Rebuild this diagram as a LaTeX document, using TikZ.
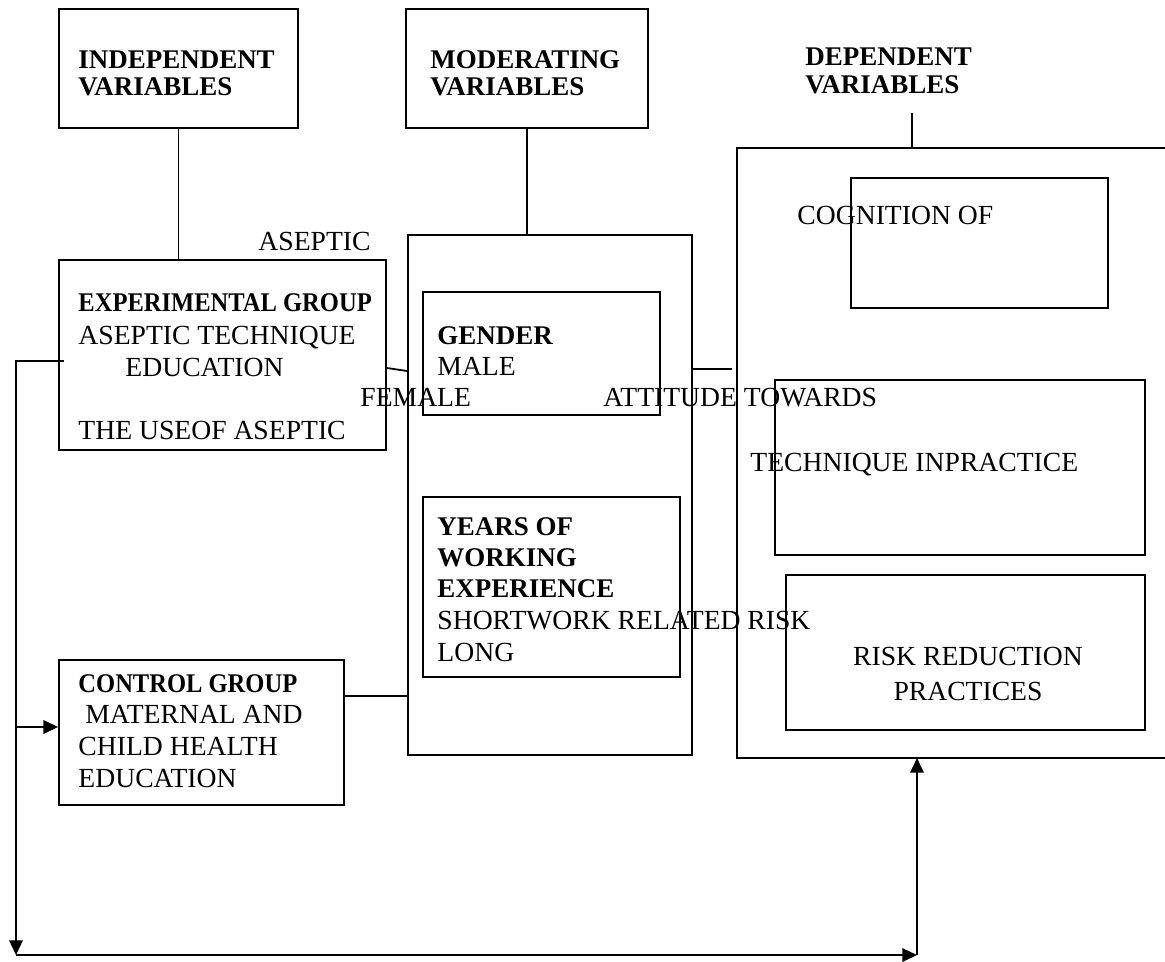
\documentclass[tikz,border=0pt]{standalone}
\usepackage{fontspec}
\setmainfont{Liberation Serif}
\usetikzlibrary{fit,arrows.meta}
\newcommand{\narrowtext}[1]{\scalebox{0.91}[1]{#1}}
\begin{document}
\begin{tikzpicture}[x=0.445pt,y=-0.445pt,
  box/.style={draw, line width=0.8pt, inner sep=0pt},
  txt/.style={inner sep=0pt, anchor=base west, font=\fontsize{12.3pt}{14pt}\selectfont},
  hd/.style={txt, font=\fontsize{12pt}{14pt}\selectfont\bfseries},
  ln/.style={line width=0.8pt},
  arr/.style={line width=0.8pt, -{Triangle[length=6.5pt,width=6pt]}}]
\useasboundingbox[fill=white] (0,0) rectangle (1165,962);

% top header boxes
\node[box, fit={(59,9) (298,128)}] (indep) {};
\node[box, fit={(406,9) (648,128)}] (moder) {};
\node[hd] (t1) at (78,68) {INDEPENDENT};
\node[hd] (t2) at (78,95) {VARIABLES};
\node[hd] (t3) at (430,68) {MODERATING};
\node[hd] (t4) at (430,95) {VARIABLES};
\node[hd] (t5) at (805,65) {DEPENDENT};
\node[hd] (t6) at (805,93) {VARIABLES};

% independent side
\node[box, fit={(59,260) (386,450)}] (exp) {};
\node[box, fit={(59,660) (344,805)}] (ctrl) {};
\node[txt] (a1) at (258,250) {ASEPTIC};
\node[hd] (e1) at (78,311) {\narrowtext{EXPERIMENTAL GROUP}};
\node[txt] (e2) at (78,344) {ASEPTIC TECHNIQUE};
\node[txt] (e3) at (125,376) {EDUCATION};
\node[txt] (e4) at (78,439) {THE USEOF ASEPTIC};
\node[hd] (c1) at (78,692) {\narrowtext{CONTROL GROUP}};
\node[txt] (c2) at (78,723) {\ MATERNAL AND};
\node[txt] (c3) at (78,755) {CHILD HEALTH};
\node[txt] (c4) at (78,787) {EDUCATION};

% moderating side
\node[box, fit={(408,235) (692,755)}] (modbox) {};
\node[box, fit={(423,292) (660,415)}] (gender) {};
\node[box, fit={(423,497) (680,677)}] (years) {};
\node[hd] (g1) at (437,344) {GENDER};
\node[txt] (g2) at (437,375) {MALE};
\node[txt] (g3) at (360,406) {FEMALE};
\node[hd] (y1) at (437,535) {YEARS OF};
\node[hd] (y2) at (437,566) {WORKING};
\node[hd] (y3) at (437,597) {EXPERIENCE};
\node[txt] (y4) at (437,629) {SHORTWORK RELATED RISK};
\node[txt] (y5) at (437,661) {LONG};

% dependent side
\coordinate (dtl) at (737,148);
\coordinate (dtr) at (1165,148);
\coordinate (dbl) at (737,758);
\coordinate (dbr) at (1165,758);
\draw[ln] (dtr) -- (dtl) -- (dbl) -- (dbr);
\node[box, fit={(851,178) (1108,308)}] (cog) {};
\node[box, fit={(775,380) (1145,555)}] (att) {};
\node[box, fit={(786,575) (1145,730)}] (risk) {};
\node[txt] (d1) at (797,224) {COGNITION OF};
\node[txt] (d2) at (603,406) {ATTITUDE TOWARDS};
\node[txt] (d3) at (750,471) {TECHNIQUE INPRACTICE};
\node[txt, anchor=base] (d4) at (968,665) {RISK REDUCTION};
\node[txt, anchor=base] (d5) at (968,700) {PRACTICES};

% connectors
\draw[ln] (indep.south) -- (indep.south |- exp.north);
\draw[ln] (moder.south) -- (moder.south |- modbox.north);
\coordinate (dtop) at (912,113);
\draw[ln] (dtop) -- (dtop |- dtl);
\draw[ln] (exp.east |- 0,368) -- (modbox.west |- 0,371);
\draw[ln] (modbox.east |- 0,369) -- (732,369);
\draw[ln] (ctrl.east |- 0,696) -- (modbox.west |- 0,696);

% feedback loop
\coordinate (lp1) at (64,361);
\coordinate (lp2) at (16,361);
\coordinate (lp3) at (16,955);
\coordinate (lp4) at (917,955);
\coordinate (lpm) at (16,727);
\coordinate (dbot) at (917,758);
\draw[arr] (lp1) -- (lp2) -- (lp3);
\draw[arr] (lpm) -- (ctrl.west |- lpm);
\draw[arr] (lp3) -- (lp4);
\draw[arr] (lp4) -- (dbot);
\end{tikzpicture}
\end{document}
